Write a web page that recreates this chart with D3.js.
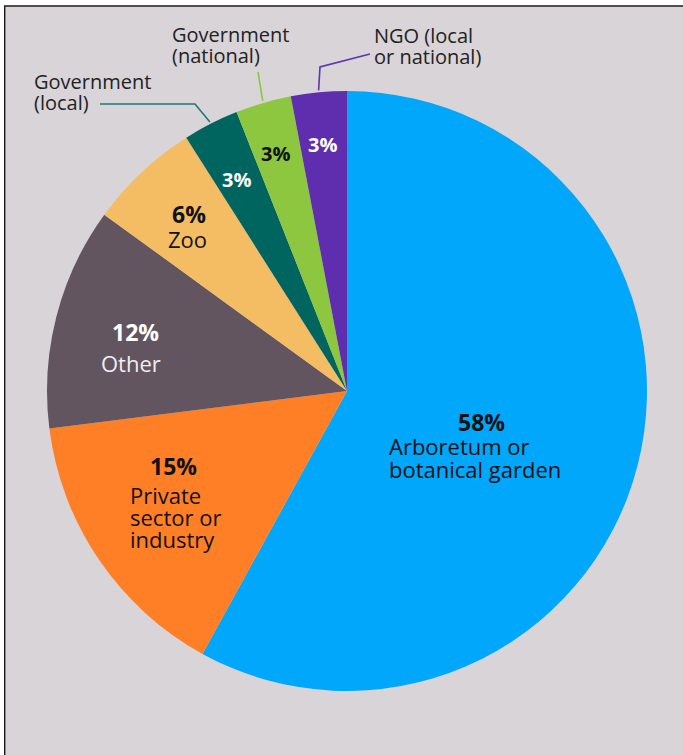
<!DOCTYPE html>
<html>
<head>
<meta charset="utf-8">
<script src="https://cdn.jsdelivr.net/npm/d3@7"></script>
<style>
  html, body { margin: 0; padding: 0; background: #ffffff; }
  svg { display: block; }
  text { font-family: "Open Sans", "Noto Sans", sans-serif; }
</style>
</head>
<body>
<svg id="chart" width="683" height="755"></svg>
<script>
// Organisation types, clockwise from 12 o'clock
const categories = [
  "Arboretum or botanical garden",
  "Private sector or industry",
  "Other",
  "Zoo",
  "Government (local)",
  "Government (national)",
  "NGO (local or national)"
];
const shares = [58, 15, 12, 6, 3, 3, 3];
const sliceColors = ["#00a7fb", "#ff7f27", "#625560", "#f5bd63", "#00655f", "#8dc63f", "#5e2eae"];
const leaderColors = [null, null, null, null, "#1d7a78", "#8dc63f", "#5e35b1"];

const W = 683, H = 755;
const cx = 347, cy = 391, R = 300;

const svg = d3.select("#chart");

// panel background with a thin dark frame on the top and left
svg.append("rect").attr("x", 5).attr("y", 6).attr("width", W - 5).attr("height", H - 6)
  .attr("fill", "#d9d4d8");
svg.append("line").attr("x1", 4).attr("x2", W).attr("y1", 6).attr("y2", 6)
  .attr("stroke", "#1a1a1a").attr("stroke-width", 1.6);
svg.append("line").attr("x1", 4.7).attr("x2", 4.7).attr("y1", 6).attr("y2", H)
  .attr("stroke", "#1a1a1a").attr("stroke-width", 1.4);

const data = categories.map((c, i) => ({ name: c, value: shares[i], color: sliceColors[i], leader: leaderColors[i] }));

const pie = d3.pie().value(d => d.value).sort(null);
const arcs = pie(data);
const arc = d3.arc().innerRadius(0).outerRadius(R);

const g = svg.append("g").attr("transform", `translate(${cx},${cy})`);
g.selectAll("path.slice").data(arcs).join("path")
  .attr("class", "slice")
  .attr("d", arc)
  .attr("fill", d => d.data.color);

// leader lines for the three small slices, starting at the middle of the rim
const elbows = {
  "Government (local)": [[195, 104], [100, 104]],
  "Government (national)": [[258, 72]],
  "NGO (local or national)": [[320, 67], [370, 54]]
};
arcs.forEach(a => {
  if (!elbows[a.data.name]) return;
  const mid = (a.startAngle + a.endAngle) / 2;
  const start = [cx + (R + 2) * Math.sin(mid), cy - (R + 2) * Math.cos(mid)];
  const pts = [start].concat(elbows[a.data.name]);
  svg.append("path")
    .attr("d", d3.line()(pts))
    .attr("fill", "none")
    .attr("stroke", a.data.leader)
    .attr("stroke-width", 1.6);
});

// multi-line text block as one element with tspans
function block(x, y, lines, lh, size, color) {
  const t = svg.append("text")
    .attr("x", x).attr("y", y)
    .attr("font-size", size)
    .attr("fill", color);
  lines.forEach((ln, i) => {
    t.append("tspan").attr("x", x).attr("dy", i === 0 ? 0 : lh).text(ln);
  });
  return t;
}

// in-slice labels: percentage (bold) plus optional name lines
function label(pct, opts) {
  svg.append("text")
    .attr("x", opts.px).attr("y", opts.py)
    .attr("font-size", opts.pSize || 23)
    .attr("font-weight", 700)
    .attr("fill", opts.pColor)
    .text(pct + "%");
  if (opts.lines) block(opts.lx, opts.ly, opts.lines, opts.lh, 22, opts.lColor);
}

label(shares[0], { px: 458, py: 431, lines: ["Arboretum or", "botanical garden"], lx: 389, ly: 455, lh: 23, pColor: "#111", lColor: "#111" });
label(shares[1], { px: 150, py: 475, lines: ["Private", "sector or", "industry"], lx: 130, ly: 504, lh: 22, pColor: "#111", lColor: "#111" });
label(shares[2], { px: 112, py: 341, lines: ["Other"], lx: 101, ly: 372, lh: 22, pColor: "#ffffff", lColor: "#f0eef0" });
label(shares[3], { px: 172, py: 223, lines: ["Zoo"], lx: 168, ly: 248, lh: 22, pColor: "#111", lColor: "#111" });
label(shares[4], { px: 222, py: 187, pSize: 20, pColor: "#ffffff" });
label(shares[5], { px: 261, py: 161, pSize: 20, pColor: "#111" });
label(shares[6], { px: 308, py: 152, pSize: 20, pColor: "#ffffff" });

// outside labels for the small slices
block(34, 89, ["Government", "(local)"], 21, 20, "#222");
block(172, 42, ["Government", "(national)"], 21, 20, "#222");
block(374, 43, ["NGO (local", "or national)"], 21, 20, "#222");
</script>
</body>
</html>
